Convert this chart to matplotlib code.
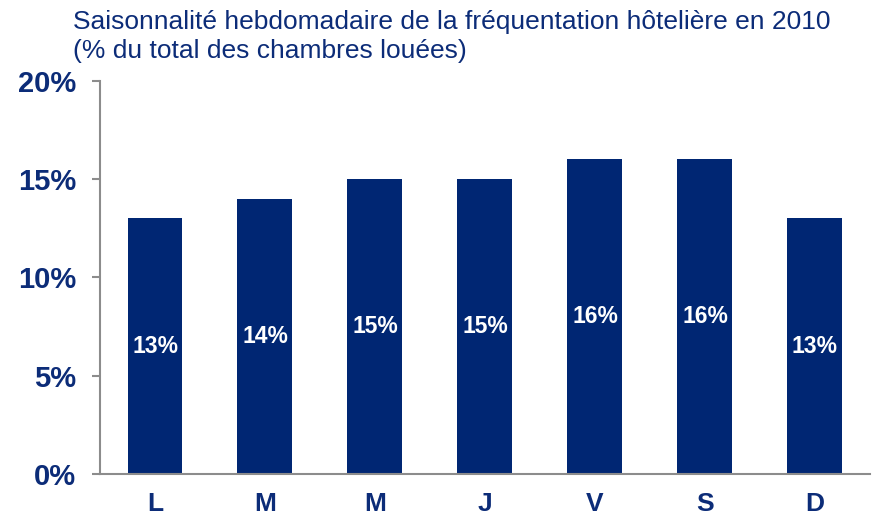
import matplotlib.pyplot as plt
from matplotlib.ticker import FuncFormatter

# ==============================
# DATA
# ==============================

days = ["L", "M", "M", "J", "V", "S", "D"]
share = [13, 14, 15, 15, 16, 16, 13]
y_ticks = [0, 5, 10, 15, 20]

NAVY = "#002673"
TEXT = "#0c2c78"
GRAY = "#8c8c8c"

plt.rcParams["font.family"] = ["Liberation Sans", "DejaVu Sans"]

fig = plt.figure(figsize=(8.85, 5.2), dpi=100)
ax = fig.add_axes([0.113, 0.0885, 0.870, 0.756])

x = range(len(days))
bars = ax.bar(x, share, width=0.5, color=NAVY)

for rect, v in zip(bars, share):
    ax.text(rect.get_x() + rect.get_width() / 2, v / 2, f"{v}%",
            ha="center", va="center", color="white",
            fontsize=16.5, fontweight="bold")

ax.set_xlim(-0.5, len(days) - 0.5)
ax.set_ylim(0, 20)
ax.set_yticks(y_ticks)
ax.yaxis.set_major_formatter(FuncFormatter(lambda v, p: f"{v:.0f}%"))
ax.set_xticks(list(x))
ax.set_xticklabels(days)

for side in ["top", "right"]:
    ax.spines[side].set_visible(False)
for side in ["left", "bottom"]:
    ax.spines[side].set_color(GRAY)
    ax.spines[side].set_linewidth(1.5)

ax.tick_params(axis="y", length=6, width=1.5, color=GRAY, pad=11,
               labelsize=21, labelcolor=TEXT)
ax.tick_params(axis="x", length=0, pad=13, labelsize=19, labelcolor=TEXT)
for lbl in ax.get_xticklabels() + ax.get_yticklabels():
    lbl.set_fontweight("bold")

fig.text(73 / 885, 1 - 10 / 520,
         "Saisonnalité hebdomadaire de la fréquentation hôtelière en 2010\n"
         "(% du total des chambres louées)",
         ha="left", va="top", color=TEXT, fontsize=19, linespacing=1.27)

fig.savefig("out.png", dpi=100)
